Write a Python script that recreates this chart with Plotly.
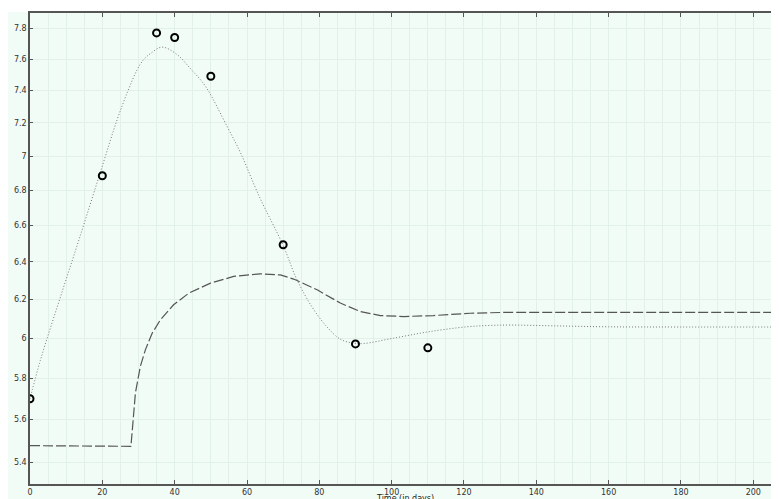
import plotly.graph_objects as go
import math

# Observed data (open circles)
obs_days = [0, 20, 35, 40, 50, 70, 90, 110]
obs_values = [5.70, 6.885, 7.77, 7.74, 7.49, 6.494, 5.971, 5.951]

# Dotted model curve
dot_days = [0, 2.9, 8.4, 14.0, 19.5, 24.1, 27.3, 29.6, 31.4, 33.3, 36.5, 40.7,
            44.3, 48.5, 54.5, 58.2, 63.5, 70, 73.8, 78, 82, 85.8, 89, 92.2,
            100.5, 110.7, 120.8, 127, 133, 145, 160, 180, 207.1]
dot_values = [5.70, 5.891, 6.212, 6.55, 6.908, 7.22, 7.41, 7.53, 7.596, 7.635, 7.677, 7.628,
              7.54, 7.427, 7.178, 7.02, 6.76, 6.49, 6.305, 6.16, 6.06, 5.995, 5.976, 5.973,
              6.0, 6.034, 6.058, 6.065, 6.067, 6.063, 6.058, 6.057, 6.057]

# Dashed model curve
dash_days = [0, 27.9, 28.3, 29.15, 30.5, 31.9, 33.8, 36.06, 39.7, 43.9, 49.9,
             56.3, 63.7, 69.2, 72.9, 79.4, 85.8, 91.3, 96.9, 103.3, 111.6, 121.7,
             132.8, 160, 207.1]
dash_values = [5.478, 5.475, 5.553, 5.728, 5.858, 5.941, 6.026, 6.094, 6.172, 6.233, 6.286,
               6.322, 6.336, 6.33, 6.308, 6.251, 6.181, 6.137, 6.116, 6.111, 6.116, 6.128,
               6.133, 6.133, 6.133]

x_ticks = [0, 20, 40, 60, 80, 100, 120, 140, 160, 180, 200]
y_ticks = [5.4, 5.6, 5.8, 6.0, 6.2, 6.4, 6.6, 6.8, 7.0, 7.2, 7.4, 7.6, 7.8]
y_ticktext = ["5.4", "5.6", "5.8", "6", "6.2", "6.4", "6.6", "6.8", "7", "7.2", "7.4", "7.6", "7.8"]

mint = "#f1fcf6"
gridc = "#e2f1e8"
axc = "#555555"
font = dict(family="DejaVu Sans", size=8, color="#333333")

fig = go.Figure()
fig.add_trace(go.Scatter(x=dash_days, y=dash_values, mode="lines",
                         line=dict(color="#555555", width=1.2, dash="10px,3px"),
                         line_shape="linear", showlegend=False))
fig.add_trace(go.Scatter(x=dot_days, y=dot_values, mode="lines",
                         line=dict(color="#777777", width=1, dash="1px,2px"),
                         line_shape="spline", line_smoothing=1.0, showlegend=False))
fig.add_trace(go.Scatter(x=obs_days, y=obs_values, mode="markers",
                         marker=dict(symbol="circle-open", size=7, color="black",
                                     line=dict(width=2, color="black")),
                         cliponaxis=True, showlegend=False))

plot_h = 491 - 5 - 15
fig.update_layout(
    width=771, height=491,
    margin=dict(l=22, r=0, t=5, b=15, autoexpand=False),
    paper_bgcolor=mint,
    plot_bgcolor=mint,
    font=font,
    shapes=[
        dict(type="rect", xref="paper", yref="paper", x0=-0.05, x1=1.05,
             y0=1 + 1.0 / plot_h, y1=1 + 6.0 / plot_h,
             fillcolor="white", line=dict(width=0), layer="below"),
    ],
    annotations=[
        dict(text="Time (in days)", xref="paper", yref="paper", x=0.5, y=0,
             yanchor="top", xanchor="center", yshift=-8, showarrow=False,
             font=dict(family="DejaVu Sans", size=8, color="#222222")),
    ],
)

fig.update_xaxes(
    range=[0, 207.1], tickvals=x_ticks, ticks="inside", ticklen=4, tickcolor=axc,
    showline=True, linecolor=axc, linewidth=1.5, mirror="ticks",
    showgrid=False, zeroline=False, tickfont=font, automargin=False,
    minor=dict(dtick=5, showgrid=True, gridcolor=gridc, gridwidth=1, ticks=""),
)
fig.update_yaxes(
    type="log", range=[math.log10(5.303), math.log10(7.902)],
    tickvals=y_ticks, ticktext=y_ticktext, ticks="inside", ticklen=3, tickcolor=axc,
    showline=True, linecolor=axc, linewidth=1.5, mirror=False, automargin=False,
    showgrid=True, gridcolor=gridc, gridwidth=1, zeroline=False, tickfont=font,
)

fig.write_html("out.html")
